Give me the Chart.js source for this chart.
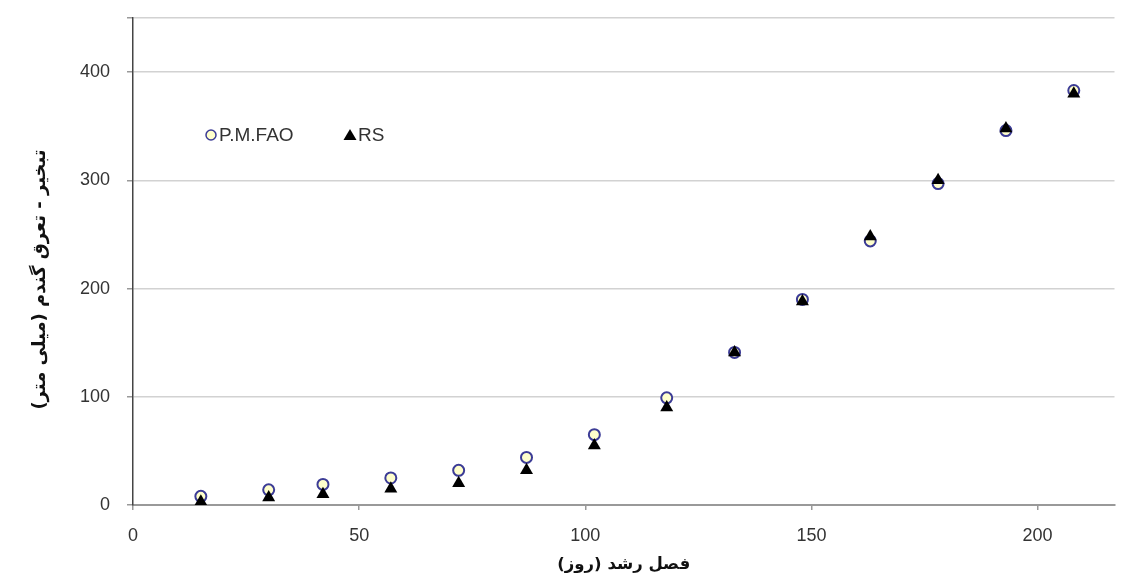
<!DOCTYPE html>
<html>
<head>
<meta charset="utf-8">
<script src="https://cdn.jsdelivr.net/npm/chart.js@4"></script>
<style>
  body { margin: 0; background: #fff; }
  #wrap { width: 1122px; height: 581px; position: relative; }
</style>
</head>
<body>
<div id="wrap"><canvas id="etChart"></canvas></div>
<script>
// growing season day
const days = [15, 30, 42, 57, 72, 87, 102, 118, 133, 148, 163, 178, 193, 208];
// cumulative ET (mm)
const pmFao = [8, 14, 19, 25, 32, 44, 65, 99, 141, 190, 244, 297, 346, 383];
const rs = [3, 7, 10, 15, 20, 32, 55, 90, 141, 188, 248, 300, 348, 380];

const xTicks = [0, 50, 100, 150, 200];
const yTicks = [0, 100, 200, 300, 400];

const seriesNames = ["P.M.FAO", "RS"];
const xTitle = "فصل رشد (روز)";
const yTitle = "تبخیر - تعرق گندم (میلی متر)";

const circleStroke = "#3c3c96";
const circleFill = "#ffffcc";

const toPoints = (ys) => days.map((d, i) => ({ x: d, y: ys[i] }));

// legend inside the plot area + y title a bit below the centre, like the original
const innerLegend = {
  id: "innerLegend",
  afterDraw(chart) {
    const { ctx, chartArea } = chart;
    const y = chartArea.top + 117;
    ctx.save();
    ctx.font = "19px 'Liberation Sans', Arial, sans-serif";
    ctx.textBaseline = "middle";

    let x = chartArea.left + 78;
    ctx.beginPath();
    ctx.arc(x, y, 5, 0, Math.PI * 2);
    ctx.fillStyle = circleFill;
    ctx.fill();
    ctx.lineWidth = 1.5;
    ctx.strokeStyle = circleStroke;
    ctx.stroke();
    ctx.fillStyle = "#333";
    ctx.fillText(seriesNames[0], x + 8, y + 1);

    x = chartArea.left + 217;
    ctx.beginPath();
    ctx.moveTo(x, y - 6);
    ctx.lineTo(x + 6.5, y + 5);
    ctx.lineTo(x - 6.5, y + 5);
    ctx.closePath();
    ctx.fillStyle = "#000";
    ctx.fill();
    ctx.fillStyle = "#333";
    ctx.fillText(seriesNames[1], x + 8, y + 1);

    // y axis title
    ctx.translate(40, (chartArea.top + chartArea.bottom) / 2 + 18);
    ctx.rotate(-Math.PI / 2);
    ctx.font = "bold 18px 'DejaVu Sans', sans-serif";
    ctx.fillStyle = "#111";
    ctx.textAlign = "center";
    ctx.fillText(yTitle, 0, 0);
    ctx.restore();
  },
};

new Chart(document.getElementById("etChart"), {
  type: "scatter",
  data: {
    datasets: [
      {
        label: seriesNames[0],
        data: toPoints(pmFao),
        pointStyle: "circle",
        pointRadius: 5.5,
        pointBorderWidth: 2,
        pointBorderColor: circleStroke,
        pointBackgroundColor: circleFill,
        order: 1,
      },
      {
        label: seriesNames[1],
        data: toPoints(rs),
        pointStyle: "triangle",
        pointRadius: 7.5,
        pointBorderWidth: 0,
        pointBorderColor: "#000",
        pointBackgroundColor: "#000",
        order: 0,
      },
    ],
  },
  options: {
    responsive: true,
    maintainAspectRatio: false,
    animation: false,
    layout: { padding: { top: 18, right: 0, left: 0, bottom: 0 } },
    plugins: {
      legend: { display: false },
      tooltip: { enabled: false },
    },
    scales: {
      x: {
        type: "linear",
        min: 0,
        max: 217,
        afterBuildTicks: (scale) => {
          scale.ticks = xTicks.map((v) => ({ value: v }));
        },
        afterFit: (scale) => {
          scale.height = 76;
          scale.paddingLeft = 0;
          scale.paddingRight = 0;
        },
        grid: {
          drawOnChartArea: false,
          tickLength: 5,
          color: "#999",
          lineWidth: 1.5,
        },
        border: { color: "#999", width: 2 },
        ticks: {
          padding: 15,
          color: "#333",
          font: { family: "'Liberation Sans', Arial, sans-serif", size: 18 },
        },
        title: {
          display: true,
          text: xTitle,
          color: "#111",
          padding: { top: 0, bottom: 6 },
          font: { family: "'DejaVu Sans', sans-serif", size: 16.5, weight: "bold" },
        },
      },
      y: {
        min: 0,
        max: 450,
        afterBuildTicks: (scale) => {
          scale.ticks = yTicks.concat([450]).map((v) => ({ value: v }));
        },
        afterFit: (scale) => {
          scale.width = 133;
          scale.paddingTop = 0;
          scale.paddingBottom = 0;
        },
        grid: {
          color: "#d2d2d2",
          lineWidth: 1.5,
          tickLength: 6,
          tickColor: "#999",
        },
        border: { color: "#444", width: 1.5 },
        ticks: {
          padding: 17,
          color: "#333",
          font: { family: "'Liberation Sans', Arial, sans-serif", size: 18 },
          callback: (v) => (yTicks.includes(v) ? v : ""),
        },
      },
    },
  },
  plugins: [innerLegend],
});
</script>
</body>
</html>
